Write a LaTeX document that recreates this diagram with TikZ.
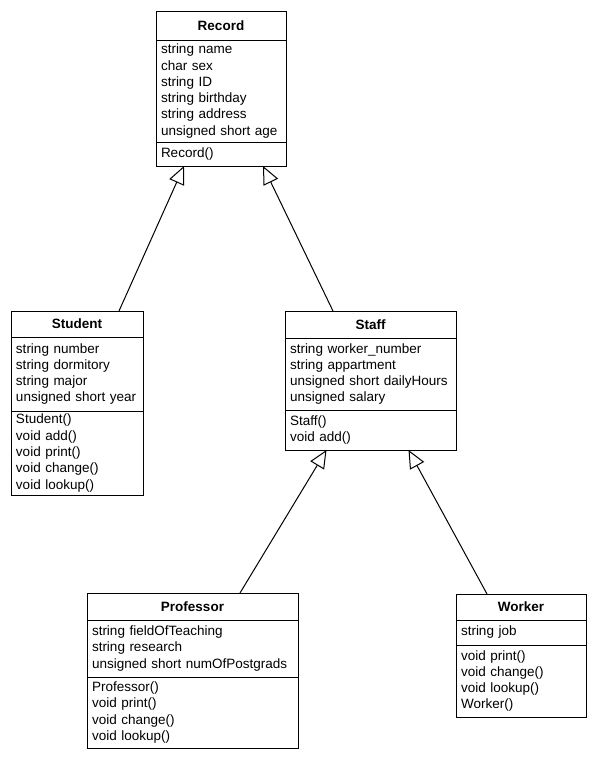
\documentclass[tikz,border=0pt]{standalone}
\usepackage{fontspec}
\setmainfont{Liberation Sans}
\usetikzlibrary{arrows.meta, positioning}

\begin{document}
\begin{tikzpicture}[
  x=1pt, y=-1pt,
  clsname/.style={draw, line width=1pt, outer sep=0pt, inner xsep=5pt, inner ysep=0pt, text width=#1, align=center, anchor=north west, font=\fontsize{13.5}{16.3}\selectfont\bfseries},
  clsbody/.style={draw, line width=1pt, outer sep=0pt, inner xsep=5pt, inner ysep=0pt, text width=#1, align=left, font=\fontsize{13.5}{16.3}\selectfont},
  inherit/.style={-{Triangle[open, length=18pt, width=16pt]}, line width=1pt},
]
  \useasboundingbox (0,0) rectangle (596,761);

  % Record
  \node[clsname=120pt, minimum height=29pt] (record) at (156,11) {Record};
  \node[clsbody=120pt, minimum height=102pt, below=0pt of record] (recordattr) {string name\\char sex\\string ID\\string birthday\\string address\\unsigned short age};
  \node[clsbody=120pt, minimum height=24pt, below=0pt of recordattr] (recordops) {Record()};

  % Student
  \node[clsname=122pt, minimum height=26pt] (student) at (11,311) {Student};
  \node[clsbody=122pt, minimum height=74pt, below=0pt of student] (studentattr) {string number\\string dormitory\\string major\\unsigned short year};
  \node[clsbody=122pt, minimum height=84pt, below=0pt of studentattr] (studentops) {Student()\\void add()\\void print()\\void change()\\void lookup()};

  % Staff
  \node[clsname=161pt, minimum height=27pt] (staff) at (285,311) {Staff};
  \node[clsbody=161pt, minimum height=72pt, below=0pt of staff] (staffattr) {string worker\_number\\string appartment\\unsigned short dailyHours\\unsigned salary};
  \node[clsbody=161pt, minimum height=40pt, below=0pt of staffattr] (staffops) {Staff()\\void add()};

  % Professor
  \node[clsname=201pt, minimum height=27pt] (professor) at (87,593) {Professor};
  \node[clsbody=201pt, minimum height=57pt, below=0pt of professor] (professorattr) {string fieldOfTeaching\\string research\\unsigned short numOfPostgrads};
  \node[clsbody=201pt, minimum height=71pt, below=0pt of professorattr] (professorops) {Professor()\\void print()\\void change()\\void lookup()};

  % Worker
  \node[clsname=120pt, minimum height=26pt] (worker) at (456,594) {Worker};
  \node[clsbody=120pt, minimum height=25pt, below=0pt of worker] (workerattr) {string job};
  \node[clsbody=120pt, minimum height=72pt, below=0pt of workerattr] (workerops) {void print()\\void change()\\void lookup()\\Worker()};

  % Inheritance
  \draw[inherit] ([xshift=42pt]student.north) -- ([xshift=-37pt]recordops.south);
  \draw[inherit] ([xshift=-37.5pt]staff.north) -- ([xshift=42pt]recordops.south);
  \draw[inherit] ([xshift=47.5pt]professor.north) -- ([xshift=-44pt]staffops.south);
  \draw[inherit] ([xshift=-34pt]worker.north) -- ([xshift=38pt]staffops.south);
\end{tikzpicture}
\end{document}
